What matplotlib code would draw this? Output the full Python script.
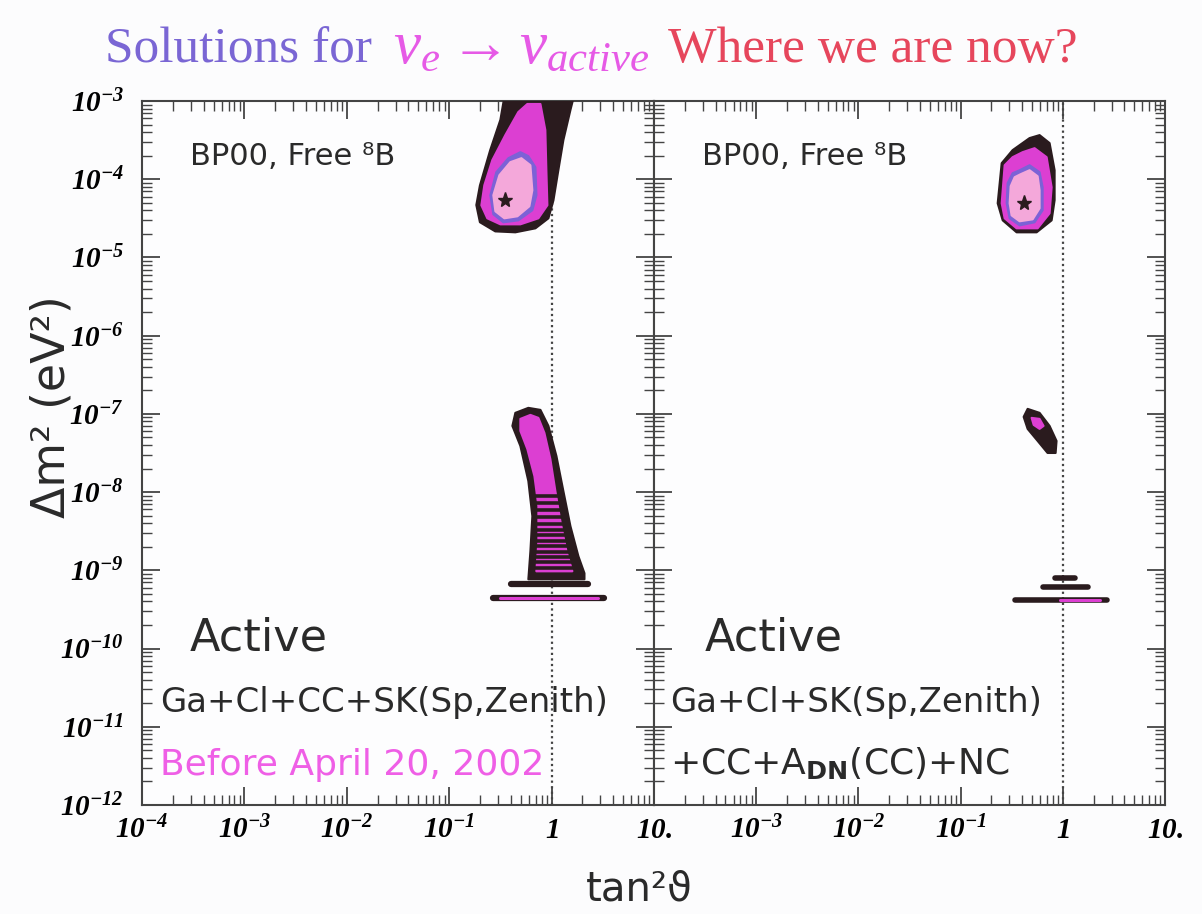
import numpy as np
import matplotlib.pyplot as plt
from matplotlib.ticker import FixedLocator, FixedFormatter, LogLocator, NullFormatter

plt.rcParams['mathtext.fontset'] = 'custom'
plt.rcParams['mathtext.rm'] = 'Liberation Serif'
plt.rcParams['mathtext.it'] = 'Liberation Serif:italic'
plt.rcParams['mathtext.bf'] = 'Liberation Serif:italic:bold'
plt.rcParams['mathtext.sf'] = 'DejaVu Sans:bold'

# allowed regions, vertices given as (log10 tan^2, log10 dm^2)
# left panel: before April 20, 2002
lma_black_a = [(-0.45, -2.86), (-0.50, -3.24), (-0.60, -3.63), (-0.70, -4.08), (-0.735, -4.33),
               (-0.70, -4.55), (-0.55, -4.667), (-0.354, -4.679), (-0.158, -4.628), (-0.031, -4.50),
               (0.018, -4.27), (0.066, -3.885), (0.115, -3.50), (0.184, -3.115), (0.233, -2.86)]
lma_magenta_a = [(-0.237, -3.038), (-0.109, -3.038), (-0.061, -3.372), (-0.051, -3.885), (-0.041, -4.333),
                 (-0.129, -4.50), (-0.305, -4.577), (-0.50, -4.577), (-0.628, -4.50), (-0.686, -4.333),
                 (-0.657, -4.077), (-0.579, -3.756), (-0.452, -3.436), (-0.325, -3.141)]
lma_blue_a = [(-0.305, -3.654), (-0.227, -3.705), (-0.158, -3.846), (-0.148, -4.205), (-0.188, -4.397),
              (-0.325, -4.526), (-0.471, -4.551), (-0.569, -4.449), (-0.598, -4.205), (-0.540, -3.910),
              (-0.422, -3.731)]
lma_pink_a = [(-0.295, -3.731), (-0.207, -3.821), (-0.188, -4.141), (-0.217, -4.346), (-0.334, -4.474),
              (-0.461, -4.50), (-0.549, -4.410), (-0.569, -4.205), (-0.510, -3.949), (-0.403, -3.782)]
best_fit_a = (-0.452, -4.27)

low_black_a = [(-0.354, -6.987), (-0.227, -6.923), (-0.109, -6.949), (-0.031, -7.154), (0.047, -7.538),
               (0.115, -7.987), (0.184, -8.436), (0.262, -8.821), (0.321, -9.038), (0.321, -9.115),
               (-0.227, -9.115), (-0.207, -8.756), (-0.188, -8.308), (-0.227, -7.859), (-0.305, -7.410),
               (-0.383, -7.154)]
low_magenta_a = [(-0.305, -7.064), (-0.207, -7.013), (-0.129, -7.051), (-0.070, -7.244), (-0.012, -7.577),
                 (0.037, -7.987), (0.086, -8.372), (0.145, -8.756), (0.203, -9.013), (-0.149, -9.013),
                 (-0.129, -8.628), (-0.129, -8.179), (-0.168, -7.795), (-0.237, -7.449), (-0.305, -7.218)]
low_scan_a = [-8.05, -8.14, -8.23, -8.32, -8.41, -8.48, -8.55, -8.62, -8.69, -8.76, -8.83, -8.90, -8.97]

# quasi-vacuum strips: (log10 dm^2, log10 tan^2 from, log10 tan^2 to)
strips_black_a = [(-9.18, -0.40, 0.36), (-9.36, -0.57, 0.51)]
strips_magenta_a = [(-9.36, -0.50, 0.45)]

# right panel: with SNO CC + day-night + NC
lma_black_b = [(-0.227, -3.436), (-0.129, -3.538), (-0.080, -3.885), (-0.080, -4.269), (-0.109, -4.526),
               (-0.256, -4.679), (-0.452, -4.679), (-0.588, -4.526), (-0.637, -4.308), (-0.598, -3.795),
               (-0.491, -3.628), (-0.325, -3.474)]
lma_magenta_b = [(-0.393, -3.654), (-0.276, -3.603), (-0.158, -3.718), (-0.109, -4.103), (-0.129, -4.436),
                 (-0.246, -4.628), (-0.452, -4.628), (-0.569, -4.50), (-0.598, -4.308), (-0.569, -3.821),
                 (-0.491, -3.718)]
lma_blue_b = [(-0.422, -3.885), (-0.325, -3.821), (-0.227, -3.910), (-0.197, -4.103), (-0.197, -4.397),
              (-0.276, -4.551), (-0.422, -4.590), (-0.520, -4.50), (-0.549, -4.308), (-0.540, -4.051),
              (-0.491, -3.923)]
lma_pink_b = [(-0.413, -3.936), (-0.325, -3.885), (-0.246, -3.962), (-0.227, -4.141), (-0.227, -4.372),
              (-0.295, -4.513), (-0.422, -4.538), (-0.501, -4.462), (-0.520, -4.308), (-0.510, -4.090),
              (-0.471, -3.974)]
best_fit_b = (-0.383, -4.308)

low_black_b = [(-0.344, -6.936), (-0.227, -6.987), (-0.129, -7.154), (-0.061, -7.346), (-0.070, -7.50),
               (-0.149, -7.50), (-0.246, -7.346), (-0.344, -7.192), (-0.383, -7.038)]
low_magenta_b = [(-0.305, -7.051), (-0.227, -7.064), (-0.188, -7.154), (-0.227, -7.192), (-0.285, -7.141)]

strips_black_b = [(-9.103, -0.080, 0.115), (-9.218, -0.197, 0.242), (-9.385, -0.471, 0.428)]
strips_magenta_b = [(-9.385, -0.031, 0.360)]

# axis ticks
x_ticks = [1e-4, 1e-3, 1e-2, 1e-1, 1, 10]
x_labels_a = [r'$\mathbf{10^{-4}}$', r'$\mathbf{10^{-3}}$', r'$\mathbf{10^{-2}}$',
              r'$\mathbf{10^{-1}}$', r'$\mathbf{1}$', r'$\mathbf{10.}$']
x_labels_b = [''] + x_labels_a[1:]
y_ticks = [10.0 ** k for k in range(-12, -2)]
y_labels = [r'$\mathbf{10^{%d}}$' % k for k in range(-12, -2)]

BLACK = '#2a1b1e'
MAGENTA = '#dc3fd2'
BLUE = '#7c62d6'
PINK = '#f4a8da'


def region(ax, pts, color, z):
    p = np.array(pts)
    return ax.fill(10 ** p[:, 0], 10 ** p[:, 1], facecolor=color, edgecolor=color,
                   lw=1.5, joinstyle='round', zorder=z)[0]


def strips(ax, rows, color, lw, z):
    for y, x0, x1 in rows:
        ax.plot([10 ** x0, 10 ** x1], [10 ** y, 10 ** y], color=color, lw=lw,
                solid_capstyle='round', zorder=z)


def setup(ax, xlabels, ylabels):
    ax.set_xscale('log')
    ax.set_yscale('log')
    ax.set_xlim(1e-4, 10)
    ax.set_ylim(1e-12, 1e-3)
    ax.set_facecolor('#fdfdfe')
    ax.xaxis.set_major_locator(FixedLocator(x_ticks))
    ax.xaxis.set_major_formatter(FixedFormatter(xlabels))
    ax.xaxis.set_minor_locator(LogLocator(base=10, subs=np.arange(2, 10), numticks=20))
    ax.xaxis.set_minor_formatter(NullFormatter())
    ax.yaxis.set_major_locator(FixedLocator(y_ticks))
    ax.yaxis.set_minor_locator(LogLocator(base=10, subs=np.arange(2, 10), numticks=20))
    ax.yaxis.set_minor_formatter(NullFormatter())
    if ylabels:
        ax.yaxis.set_major_formatter(FixedFormatter(y_labels))
    else:
        ax.yaxis.set_major_formatter(NullFormatter())
    ax.tick_params(which='both', direction='in', top=True, right=True, color='#444444')
    ax.tick_params(which='major', length=13, width=1.3, labelsize=21)
    ax.tick_params(axis='x', which='major', pad=8)
    ax.tick_params(axis='y', which='major', pad=13)
    ax.tick_params(which='minor', length=7, width=1.0)
    for s in ax.spines.values():
        s.set_color('#444444')
        s.set_linewidth(1.5)
    ax.axvline(1, color='#444444', lw=1.6, ls=(0, (1, 1.5)), zorder=1)


fig = plt.figure(figsize=(12.02, 9.14), dpi=100, facecolor='#fcfcfd')
ax1 = fig.add_axes([0.1181, 0.1193, 0.4260, 0.7702])
ax2 = fig.add_axes([0.5441, 0.1193, 0.4251, 0.7702])

setup(ax1, x_labels_a, True)
setup(ax2, x_labels_b, False)

# left panel
region(ax1, lma_black_a, BLACK, 3)
region(ax1, lma_magenta_a, MAGENTA, 4)
region(ax1, lma_blue_a, BLUE, 5)
region(ax1, lma_pink_a, PINK, 6)
ax1.plot(10 ** best_fit_a[0], 10 ** best_fit_a[1], marker='*', ms=11, color=BLACK, zorder=7)
low_patch = region(ax1, low_black_a, BLACK, 3)
region(ax1, low_magenta_a, MAGENTA, 4)
for lev in low_scan_a:
    ln, = ax1.plot([1e-2, 1e1], [10 ** lev, 10 ** lev], color=BLACK, lw=2.6, zorder=5)
    ln.set_clip_path(low_patch)
strips(ax1, strips_black_a, BLACK, 4.5, 3)
strips(ax1, strips_magenta_a, MAGENTA, 2.2, 4)

# right panel
region(ax2, lma_black_b, BLACK, 3)
region(ax2, lma_magenta_b, MAGENTA, 4)
region(ax2, lma_blue_b, BLUE, 5)
region(ax2, lma_pink_b, PINK, 6)
ax2.plot(10 ** best_fit_b[0], 10 ** best_fit_b[1], marker='*', ms=11, color=BLACK, zorder=7)
region(ax2, low_black_b, BLACK, 3)
region(ax2, low_magenta_b, MAGENTA, 4)
strips(ax2, strips_black_b, BLACK, 4, 3)
strips(ax2, strips_magenta_b, MAGENTA, 2.2, 4)

# panel annotations
txt = dict(family='DejaVu Sans', color='#2a2a2a')
for ax in (ax1, ax2):
    ax.text(0.094, 0.909, 'BP00, Free \u2078B', transform=ax.transAxes, fontsize=22, **txt)
ax1.text(0.094, 0.220, 'Active', transform=ax1.transAxes, fontsize=32, **txt)
ax2.text(0.100, 0.220, 'Active', transform=ax2.transAxes, fontsize=32, **txt)
ax1.text(0.035, 0.132, 'Ga+Cl+CC+SK(Sp,Zenith)', transform=ax1.transAxes, fontsize=24.5, **txt)
ax1.text(0.035, 0.043, 'Before April 20, 2002', transform=ax1.transAxes, fontsize=26,
         family='DejaVu Sans', color='#ef5fe6')
ax2.text(0.031, 0.132, 'Ga+Cl+SK(Sp,Zenith)', transform=ax2.transAxes, fontsize=24.5, **txt)
ax2.text(0.031, 0.043, r'+CC+A$_{\mathsf{DN}}$(CC)+NC', transform=ax2.transAxes, fontsize=26, **txt)

# axis titles
fig.text(0.043, 0.555, '\u0394m\u00b2 (eV\u00b2)', rotation=90, ha='center', va='center',
         fontsize=33, family='DejaVu Sans', color='#2a2a2a')
fig.text(0.532, 0.027, 'tan\u00b2\u03d1', ha='center', va='center',
         fontsize=29, family='DejaVu Sans', color='#2a2a2a')

# heading
fig.text(0.087, 0.932, 'Solutions for', fontsize=37, family='Liberation Serif', color='#7a66d4',
         va='baseline')
fig.text(0.327, 0.932, r'$\nu_e \rightarrow \nu_{active}$', fontsize=44, color='#e65ae6',
         va='baseline')
fig.text(0.556, 0.932, 'Where we are now?', fontsize=37, family='Liberation Serif', color='#e6465c',
         va='baseline')

fig.savefig('out.png', dpi=100, facecolor=fig.get_facecolor())
